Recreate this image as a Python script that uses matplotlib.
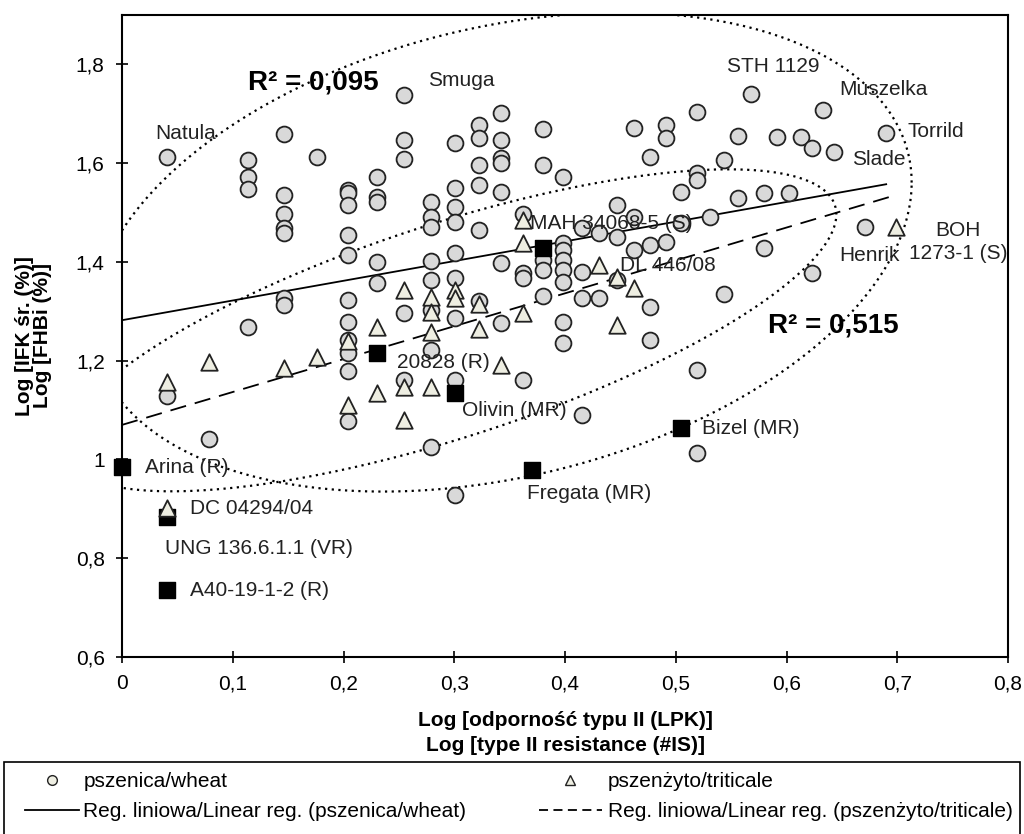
#!/usr/bin/env python3
"""
Scatter of FHB index vs type II resistance (log scale values), wheat vs triticale.
"""

import numpy as np
import matplotlib
matplotlib.use("Agg")
import matplotlib.pyplot as plt
from matplotlib.lines import Line2D
from matplotlib.patches import Rectangle

# --- data --------------------------------------------------------------------
wheat_x = [
    0.041, 0.041,
    0.079,
    0.114, 0.114, 0.114, 0.114,
    0.146, 0.146, 0.146, 0.146, 0.146, 0.146, 0.146,
    0.176,
    0.204, 0.204, 0.204, 0.204, 0.204, 0.204, 0.204, 0.204, 0.204, 0.204, 0.204,
    0.230, 0.230, 0.230, 0.230, 0.230,
    0.255, 0.255, 0.255, 0.255, 0.255,
    0.279, 0.279, 0.279, 0.279, 0.279, 0.279, 0.279, 0.279,
    0.301, 0.301, 0.301, 0.301, 0.301, 0.301, 0.301, 0.301, 0.301,
    0.322, 0.322, 0.322, 0.322, 0.322, 0.322,
    0.342, 0.342, 0.342, 0.342, 0.342, 0.342, 0.342,
    0.362, 0.362, 0.362, 0.362,
    0.380, 0.380, 0.380, 0.380, 0.380,
    0.398, 0.398, 0.398, 0.398, 0.398, 0.398, 0.398, 0.398,
    0.415, 0.415, 0.415, 0.415,
    0.431, 0.431,
    0.447, 0.447, 0.447,
    0.462, 0.462, 0.462,
    0.477, 0.477, 0.477, 0.477,
    0.491, 0.491, 0.491,
    0.505, 0.505,
    0.519, 0.519, 0.519, 0.519, 0.519,
    0.531,
    0.544, 0.544,
    0.556, 0.556,
    0.568,
    0.580, 0.580,
    0.591,
    0.602,
    0.613,
    0.623, 0.623,
    0.633,
    0.643,
    0.671,
    0.690,
]
wheat_y = [
    1.612, 1.128,
    1.041,
    1.606, 1.571, 1.547, 1.268,
    1.660, 1.535, 1.498, 1.468, 1.458, 1.326, 1.312,
    1.612,
    1.545, 1.539, 1.515, 1.454, 1.415, 1.322, 1.278, 1.241, 1.215, 1.179, 1.077,
    1.571, 1.531, 1.521, 1.399, 1.357,
    1.737, 1.646, 1.608, 1.296, 1.160,
    1.521, 1.490, 1.470, 1.401, 1.363, 1.302, 1.221, 1.025,
    1.640, 1.549, 1.511, 1.480, 1.418, 1.367, 1.286, 1.160, 0.928,
    1.677, 1.650, 1.596, 1.555, 1.464, 1.320,
    1.701, 1.646, 1.610, 1.600, 1.541, 1.397, 1.276,
    1.498, 1.377, 1.367, 1.160,
    1.670, 1.596, 1.403, 1.383, 1.332,
    1.571, 1.438, 1.424, 1.403, 1.383, 1.359, 1.278, 1.235,
    1.468, 1.379, 1.326, 1.090,
    1.458, 1.326,
    1.515, 1.450, 1.363,
    1.672, 1.490, 1.424,
    1.612, 1.434, 1.308, 1.241,
    1.677, 1.650, 1.440,
    1.541, 1.478,
    1.703, 1.580, 1.565, 1.181, 1.013,
    1.490,
    1.606, 1.336,
    1.654, 1.529,
    1.741,
    1.539, 1.428,
    1.652,
    1.539,
    1.652,
    1.630, 1.377,
    1.707,
    1.622,
    1.470,
    1.662,
]

triticale_x = [
    0.041, 0.041, 0.079, 0.146, 0.176, 0.204, 0.204, 0.230, 0.230,
    0.255, 0.255, 0.255, 0.279, 0.279, 0.279, 0.279, 0.301, 0.301,
    0.322, 0.322, 0.342, 0.362, 0.362, 0.362, 0.431, 0.447, 0.447,
    0.462, 0.699,
]
triticale_y = [
    1.156, 0.901, 1.197, 1.185, 1.207, 1.239, 1.110, 1.268, 1.134,
    1.343, 1.146, 1.079, 1.328, 1.298, 1.258, 1.146, 1.343, 1.326,
    1.314, 1.264, 1.191, 1.484, 1.438, 1.296, 1.393, 1.369, 1.272,
    1.347, 1.470,
]

# check cultivars (black squares)
check_x = [0.0, 0.041, 0.041, 0.230, 0.301, 0.370, 0.505, 0.380]
check_y = [0.984, 0.883, 0.735, 1.215, 1.134, 0.978, 1.063, 1.428]

# linear trend lines as drawn (slope, intercept, x range)
wheat_fit = (0.399, 1.282)
wheat_fit_range = (0.0, 0.69)
triticale_fit = (0.666, 1.070)
triticale_fit_range = (0.0, 0.695)

r2_labels = ["R² = 0,095", "R² = 0,515"]

# point labels: text, x, y, alignment
point_labels = [
    ("Natula", 0.030, 1.660, "left"),
    ("Smuga", 0.276, 1.768, "left"),
    ("STH 1129", 0.546, 1.796, "left"),
    ("Muszelka", 0.648, 1.749, "left"),
    ("Torrild", 0.709, 1.664, "left"),
    ("Slade", 0.659, 1.608, "left"),
    ("MAH 34068-5 (S)", 0.368, 1.478, "left"),
    ("DL 446/08", 0.450, 1.393, "left"),
    ("Henrik", 0.648, 1.413, "left"),
    ("BOH\n1273-1 (S)", 0.755, 1.44, "center"),
    ("20828 (R)", 0.248, 1.197, "left"),
    ("Olivin (MR)", 0.307, 1.100, "left"),
    ("Bizel (MR)", 0.524, 1.063, "left"),
    ("Fregata (MR)", 0.366, 0.932, "left"),
    ("Arina (R)", 0.0208, 0.984, "left"),
    ("DC 04294/04", 0.0614, 0.901, "left"),
    ("UNG 136.6.1.1 (VR)", 0.039, 0.820, "left"),
    ("A40-19-1-2 (R)", 0.0614, 0.735, "left"),
]

# dotted ovals: centre x, centre y, half width, half height, coupling
outer_oval = (0.343, 1.420, 0.370, 0.485, 0.29)
inner_oval = (0.296, 1.2615, 0.349, 0.326, 0.72)

FONT = ["Liberation Sans", "DejaVu Sans"]


def comma(v: float) -> str:
    s = f"{v:.1f}".rstrip("0").rstrip(".")
    return s.replace(".", ",")


def oval_points(cx, cy, hw, hh, rho):
    t = np.linspace(0, 2 * np.pi, 400)
    phi = np.arccos(rho)
    return cx + hw * np.cos(t), cy + hh * np.cos(t - phi)


def main() -> None:
    plt.rcParams["font.family"] = FONT

    fig = plt.figure(figsize=(10.24, 8.34), dpi=100)
    ax = fig.add_axes([122 / 1024, 1 - 657 / 834, 886 / 1024, 642 / 834])

    for oval in (outer_oval, inner_oval):
        ox, oy = oval_points(*oval)
        ax.plot(ox, oy, color="black", lw=1.6, linestyle=(0, (1, 2)), zorder=1)

    xs = np.array(wheat_fit_range)
    ax.plot(xs, wheat_fit[0] * xs + wheat_fit[1], color="black", lw=1.3, zorder=2)
    xs = np.array(triticale_fit_range)
    ax.plot(xs, triticale_fit[0] * xs + triticale_fit[1], color="black", lw=1.3,
            dashes=(9, 5), zorder=2)

    ax.scatter(wheat_x, wheat_y, s=130, marker="o", facecolor="#d9d9d9",
               edgecolor="#222222", linewidth=1.3, zorder=3)
    ax.scatter(check_x, check_y, s=125, marker="s", facecolor="black",
               edgecolor="black", linewidth=1.0, zorder=3.5, clip_on=False)
    ax.scatter(triticale_x, triticale_y, s=140, marker="^", facecolor="#eeeee2",
               edgecolor="#222222", linewidth=1.3, zorder=4)

    for text, x, y, ha in point_labels:
        ax.text(x, y, text, ha=ha, va="center", fontsize=15,
                color="#222222", zorder=6, linespacing=1.25)

    ax.text(0.114, 1.764, r2_labels[0], ha="left", va="center", fontsize=20,
            fontweight="bold", zorder=6)
    ax.text(0.583, 1.272, r2_labels[1], ha="left", va="center", fontsize=20,
            fontweight="bold", zorder=6)

    ax.set_xlim(0, 0.8)
    ax.set_ylim(0.6, 1.9)
    xt = np.round(np.arange(0, 0.81, 0.1), 1)
    yt = np.round(np.arange(0.6, 1.81, 0.2), 1)
    ax.set_xticks(xt)
    ax.set_xticklabels([comma(v) for v in xt], fontsize=15)
    ax.set_yticks(yt)
    ax.set_yticklabels([comma(v) for v in yt], fontsize=15)
    ax.tick_params(direction="inout", length=9, width=1.2, pad=8)
    for sp in ax.spines.values():
        sp.set_linewidth(1.5)

    fig.text(565 / 1024, 1 - 733 / 834,
             "Log [odporność typu II (LPK)]\nLog [type II resistance (#IS)]",
             ha="center", va="center", fontsize=15, fontweight="bold",
             linespacing=1.45)
    fig.text(33.5 / 1024, 1 - 336 / 834, "Log [IFK śr. (%)]\nLog [FHBi (%)]",
             ha="center", va="center", rotation=90, fontsize=15,
             fontweight="bold", linespacing=0.9)

    # legend box with two columns
    fig.add_artist(Rectangle((4 / 1024, -0.01), 1016 / 1024, 1 - 762 / 834 + 0.01,
                             transform=fig.transFigure, fill=False,
                             edgecolor="black", lw=1.2))
    left_handles = [
        Line2D([], [], marker="o", linestyle="none", markersize=7,
               markerfacecolor="#eeeee2", markeredgecolor="#222222"),
        Line2D([], [], color="black", lw=1.3),
    ]
    left_labels = ["pszenica/wheat", "Reg. liniowa/Linear reg. (pszenica/wheat)"]
    right_handles = [
        Line2D([], [], marker="^", linestyle="none", markersize=7,
               markerfacecolor="#eeeee2", markeredgecolor="#222222"),
        Line2D([], [], color="black", lw=1.3, dashes=(5, 3)),
    ]
    right_labels = ["pszenżyto/triticale",
                    "Reg. liniowa/Linear reg. (pszenżyto/triticale)"]
    common = dict(loc="upper left", frameon=False, prop={"size": 15},
                  borderpad=0, borderaxespad=0, labelspacing=0.55)
    fig.legend(left_handles, left_labels,
               bbox_to_anchor=(25 / 1024, 1 - 772 / 834), handlelength=2.6,
               handletextpad=0.2, **common)
    fig.legend(right_handles, right_labels,
               bbox_to_anchor=(539 / 1024, 1 - 772 / 834), handlelength=3.0,
               handletextpad=0.3, **common)

    fig.savefig("out.png", dpi=100)
    plt.close(fig)


if __name__ == "__main__":
    main()
